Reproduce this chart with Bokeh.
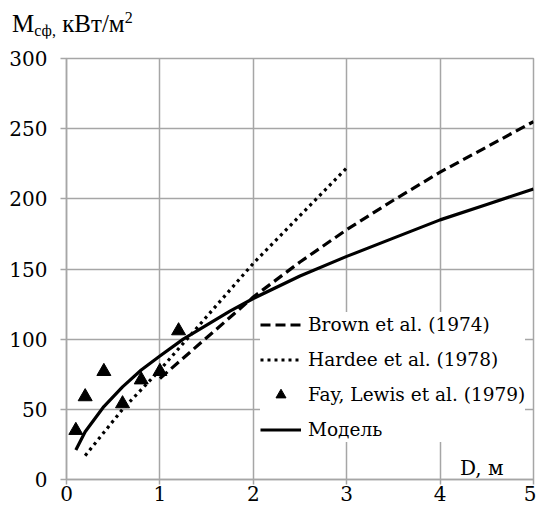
from bokeh.plotting import figure
from bokeh.models import Range1d, Legend, LegendItem, Label, FixedTicker, Div
from bokeh.layouts import column
from bokeh.embed import file_html
from bokeh.resources import INLINE

# Data
brown_x = [1.0, 1.5, 2.0, 2.5, 3.0, 3.5, 4.0, 4.5, 5.0]
brown_y = [72, 101, 130, 155, 178, 199, 219, 237, 255]
hardee_x = [0.2, 0.6, 1.0, 1.5, 2.0, 2.5, 3.0]
hardee_y = [17, 50, 78, 116, 154, 188, 222]
fay_x = [0.1, 0.2, 0.4, 0.6, 0.8, 1.0, 1.2]
fay_y = [35, 59, 77, 54, 71, 77, 106]
model_x = [0.1, 0.2, 0.4, 0.6, 0.8, 1.0, 1.25, 1.5, 1.75, 2.0, 2.5, 3.0, 3.5, 4.0, 4.5, 5.0]
model_y = [21, 34, 52, 66, 78, 88, 100, 110, 120, 129, 145, 159, 172, 185, 196, 207]
x_ticks = [0, 1, 2, 3, 4, 5]
y_ticks = [0, 50, 100, 150, 200, 250, 300]

GRID = "#a6a6a6"
SVG_FONT = "DejaVu Serif"

title_html = (
    '<div style="font-family:\'Liberation Serif\',\'Times New Roman\',serif;'
    'font-size:25px;line-height:25px;padding:11px 0 0 12px;color:black;white-space:nowrap">'
    'M<span style="font-size:16px;position:relative;top:4px">сф,</span> кВт/м'
    '<span style="font-size:16px;position:relative;top:-9px">2</span></div>'
)
div = Div(text=title_html, width=536, height=38, margin=(0, 0, 0, 0))

p = figure(width=536, height=471, output_backend="svg", toolbar_location=None,
           x_range=Range1d(0, 5), y_range=Range1d(0, 300),
           min_border_left=66, min_border_right=3, min_border_top=20, min_border_bottom=30,
           margin=(0, 0, 0, 0))

p.background_fill_color = "white"
p.outline_line_color = GRID
p.outline_line_width = 1.5

for ax in (p.xaxis[0], p.yaxis[0]):
    ax.axis_line_color = GRID
    ax.axis_line_width = 1.5
    ax.major_tick_line_color = GRID
    ax.major_tick_line_width = 1.5
    ax.major_tick_in = 0
    ax.minor_tick_line_color = None
    ax.major_label_text_font = SVG_FONT
    ax.major_label_text_font_size = "20px"
    ax.major_label_text_color = "black"
p.xaxis[0].major_tick_out = 5
p.yaxis[0].major_tick_out = 6
p.xaxis[0].ticker = FixedTicker(ticks=x_ticks)
p.yaxis[0].ticker = FixedTicker(ticks=y_ticks)
p.xaxis[0].major_label_standoff = 1
p.yaxis[0].major_label_standoff = 13

p.xgrid.grid_line_color = GRID
p.ygrid.grid_line_color = GRID
p.xgrid.grid_line_width = 1.5
p.ygrid.grid_line_width = 1.5
p.xgrid.ticker = FixedTicker(ticks=x_ticks)
p.ygrid.ticker = FixedTicker(ticks=y_ticks)

r_brown = p.line(brown_x, brown_y, line_color="black", line_width=3.2, line_dash="10 5")
r_hardee = p.line(hardee_x, hardee_y, line_color="black", line_width=3.2, line_dash="3 4")
r_fay = p.scatter(fay_x, fay_y, marker="triangle", size=14, fill_color="black", line_color="black")
r_model = p.line(model_x, model_y, line_color="black", line_width=3.2, line_join="round")

legend = Legend(items=[
    LegendItem(label="Brown et al. (1974)", renderers=[r_brown]),
    LegendItem(label="Hardee et al. (1978)", renderers=[r_hardee]),
    LegendItem(label="Fay, Lewis et al. (1979)", renderers=[r_fay]),
    LegendItem(label="Модель", renderers=[r_model]),
], location=(194, 37))
legend.glyph_width = 41
legend.glyph_height = 25
legend.label_height = 25
legend.spacing = 10
legend.padding = 8
legend.margin = 0
legend.label_standoff = 7
legend.label_text_font = SVG_FONT
legend.label_text_font_size = "18.5px"
legend.label_text_color = "black"
legend.background_fill_color = "white"
legend.background_fill_alpha = 1.0
legend.border_line_color = None
p.add_layout(legend, "center")

# Axis name "D, м"
p.add_layout(Label(x=4.68, y=8, text="D, м", text_align="right", text_baseline="alphabetic",
                   text_font=SVG_FONT, text_font_size="20px", text_color="black"))

layout = column(div, p, spacing=0)
open("out.html", "w").write(file_html(layout, INLINE))
